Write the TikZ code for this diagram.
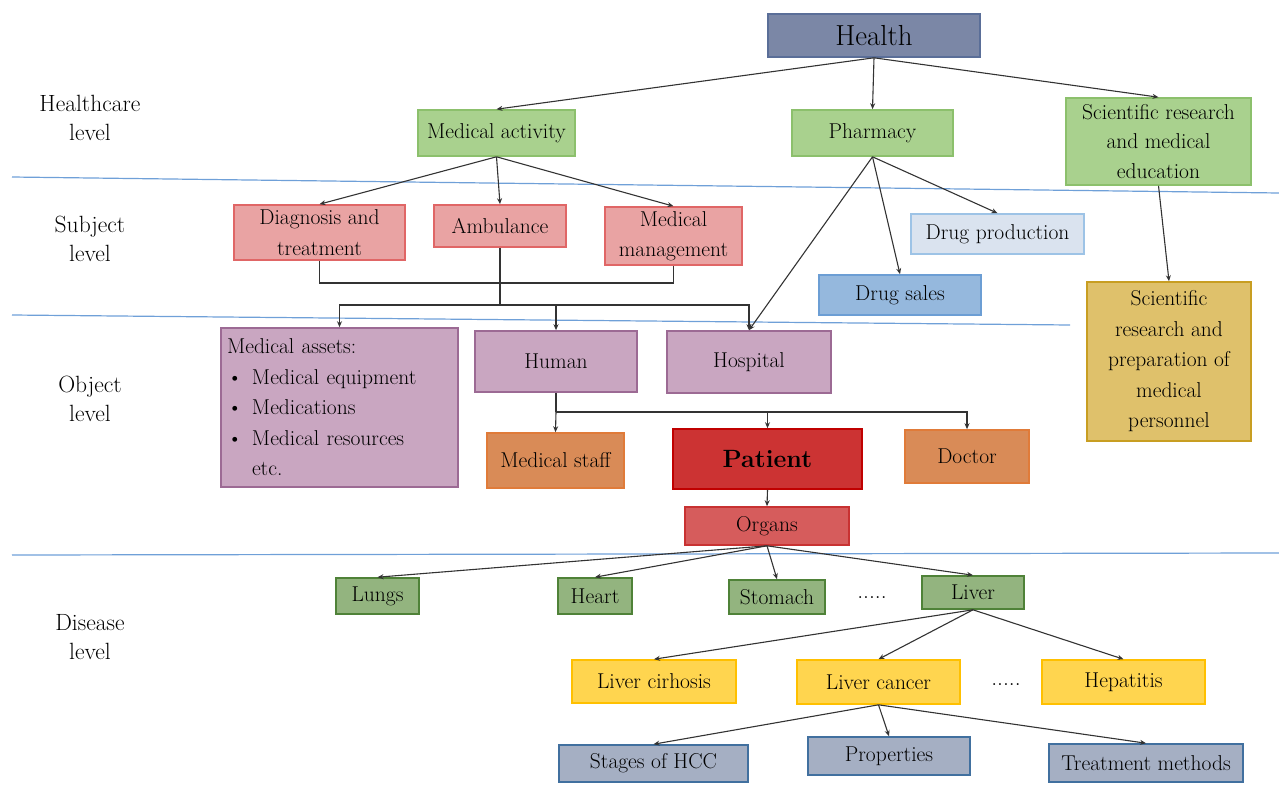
\documentclass[tikz,border=0pt]{standalone}
\usepackage{xcolor}
\usepackage{tikz}
\usetikzlibrary{arrows.meta}

\definecolor{healthfill}{HTML}{7B87A6}
\definecolor{healthline}{HTML}{5A6E98}
\definecolor{greenfill}{HTML}{A9D18E}
\definecolor{greenline}{HTML}{8CC06C}
\definecolor{pinkfill}{HTML}{E9A3A3}
\definecolor{pinkline}{HTML}{E06666}
\definecolor{paleblue}{HTML}{DAE3EF}
\definecolor{palebline}{HTML}{9DC3E6}
\definecolor{salesfill}{HTML}{95B8DD}
\definecolor{salesline}{HTML}{6C9ED4}
\definecolor{goldfill}{HTML}{DFC16B}
\definecolor{goldline}{HTML}{C89E22}
\definecolor{purplefill}{HTML}{C9A6C1}
\definecolor{purpleline}{HTML}{9C6A94}
\definecolor{orangefill}{HTML}{D98B57}
\definecolor{orangeline}{HTML}{E07B39}
\definecolor{patientfill}{HTML}{CC3333}
\definecolor{patientline}{HTML}{C00000}
\definecolor{organfill}{HTML}{D65C5C}
\definecolor{organline}{HTML}{C83232}
\definecolor{olivefill}{HTML}{93B47F}
\definecolor{oliveline}{HTML}{4F8238}
\definecolor{yellowfill}{HTML}{FFD54F}
\definecolor{yellowline}{HTML}{FFC000}
\definecolor{slatefill}{HTML}{A5AFC3}
\definecolor{slateline}{HTML}{41709F}
\definecolor{levelline}{HTML}{6FA0D8}

\tikzset{
  box/.style={draw, line width=1.6pt, inner sep=0pt, align=center,
    font=\fontsize{21.5}{30.5}\selectfont},
  lvl/.style={align=center, font=\fontsize{23.5}{29}\selectfont},
  link/.style={line width=1.1pt, draw=black!80, -{Stealth[length=6pt,width=5pt]}},
  bus/.style={line width=1.1pt, draw=black!80},
  sep/.style={line width=1.2pt, draw=levelline}
}

\begin{document}
\begin{tikzpicture}[x=1pt, y=-1pt]
            \useasboundingbox (0,0) rectangle (1279,787);

            % level separators
            \draw[sep] (12,177) -- (1279,193);
            \draw[sep] (12,315) -- (1070,325);
            \draw[sep] (12,555) -- (1279,553);

            % level labels
            \node[lvl] (lvlcare) at (90,118) {Healthcare\\level};
            \node[lvl] (lvlsubj) at (90,239) {Subject\\level};
            \node[lvl] (lvlobj) at (90,399) {Object\\level};
            \node[lvl] (lvldis) at (90,637) {Disease\\level};

            % healthcare level
            \node[box, fill=healthfill, draw=healthline, minimum width=212, minimum height=43,
              font=\fontsize{29}{32}\selectfont] (health) at (874,35.5) {Health};
            \node[box, fill=greenfill, draw=greenline, minimum width=157, minimum height=46] (medact) at (496.5,133) {Medical activity};
            \node[box, fill=greenfill, draw=greenline, minimum width=161, minimum height=46] (pharmacy) at (872.5,133) {Pharmacy};
            \node[box, fill=greenfill, draw=greenline, minimum width=185, minimum height=87,
              font=\fontsize{21.5}{29.5}\selectfont] (sciedu) at (1158.5,141.5) {Scientific research\\and medical\\education};

            % subject level
            \node[box, fill=pinkfill, draw=pinkline, minimum width=171, minimum height=55] (diag) at (319.5,232.5) {Diagnosis and\\treatment};
            \node[box, fill=pinkfill, draw=pinkline, minimum width=132, minimum height=42] (amb) at (500,226) {Ambulance};
            \node[box, fill=pinkfill, draw=pinkline, minimum width=137, minimum height=58] (mgmt) at (673.5,236) {Medical\\management};
            \node[box, fill=paleblue, draw=palebline, minimum width=173, minimum height=40] (drugprod) at (997.5,234) {Drug production};
            \node[box, fill=salesfill, draw=salesline, minimum width=162, minimum height=40] (drugsales) at (900,295) {Drug sales};
            \node[box, fill=goldfill, draw=goldline, minimum width=164, minimum height=159] (sciprep) at (1169,361.5) {Scientific\\research and\\preparation of\\medical\\personnel};

            % object level
            \node[box, fill=purplefill, draw=purpleline, minimum width=237, minimum height=159,
              text width=225pt, align=left] (assets) at (339.5,407.5)
              {Medical assets:\\
               \makebox[25pt][l]{\textbullet}Medical equipment\\
               \makebox[25pt][l]{\textbullet}Medications\\
               \makebox[25pt][l]{\textbullet}Medical resources\\
               \hspace*{25pt}etc.};
            \node[box, fill=purplefill, draw=purpleline, minimum width=162, minimum height=61] (human) at (556,361.5) {Human};
            \node[box, fill=purplefill, draw=purpleline, minimum width=164, minimum height=62] (hospital) at (749,362) {Hospital};
            \node[box, fill=orangefill, draw=orangeline, minimum width=137, minimum height=55] (staff) at (555.5,460.5) {Medical staff};
            \node[box, fill=patientfill, draw=patientline, minimum width=189, minimum height=60,
              font=\fontsize{25}{28}\selectfont\bfseries] (patient) at (767.5,459) {Patient};
            \node[box, fill=orangefill, draw=orangeline, minimum width=124, minimum height=53] (doctor) at (967,456.5) {Doctor};
            \node[box, fill=organfill, draw=organline, minimum width=164, minimum height=38] (organs) at (767,526) {Organs};

            % disease level
            \node[box, fill=olivefill, draw=oliveline, minimum width=83, minimum height=36] (lungs) at (377.5,596) {Lungs};
            \node[box, fill=olivefill, draw=oliveline, minimum width=74, minimum height=36] (heart) at (595,596) {Heart};
            \node[box, fill=olivefill, draw=oliveline, minimum width=96, minimum height=34] (stomach) at (777,597) {Stomach};
            \node[lvl] (dotsorg) at (872,598) {.....};
            \node[box, fill=olivefill, draw=oliveline, minimum width=102, minimum height=33] (liver) at (973,592.5) {Liver};
            \node[box, fill=yellowfill, draw=yellowline, minimum width=164, minimum height=43] (cirr) at (654,681.5) {Liver cirhosis};
            \node[box, fill=yellowfill, draw=yellowline, minimum width=163, minimum height=44] (cancer) at (878.5,682) {Liver cancer};
            \node[lvl] (dotsdis) at (1006,685) {.....};
            \node[box, fill=yellowfill, draw=yellowline, minimum width=163, minimum height=44] (hepat) at (1123.5,682) {Hepatitis};
            \node[box, fill=slatefill, draw=slateline, minimum width=189, minimum height=37] (stages) at (653.5,763.5) {Stages of HCC};
            \node[box, fill=slatefill, draw=slateline, minimum width=162, minimum height=38] (props) at (889,756) {Properties};
            \node[box, fill=slatefill, draw=slateline, minimum width=194, minimum height=38] (treat) at (1146,763) {Treatment methods};

            % bus heights
            \coordinate (busA) at (0,283);
            \coordinate (busB) at (0,305);
            \coordinate (busC) at (0,412);

            \draw[link] (health.south) -- (medact.north); % health-activity
            \draw[link] (health.south) -- (pharmacy.north); % health-pharmacy
            \draw[link] (health.south) -- (sciedu.north); % health-science
            \draw[link] (medact.south) -- (diag.north);
            \draw[link] (medact.south) -- (amb.north);
            \draw[link] (medact.south) -- (mgmt.north);
            \draw[link] (pharmacy.south) -- (drugprod.north);
            \draw[link] (pharmacy.south) -- (drugsales.north);
            \draw[link] (pharmacy.south) -- (hospital.north);
            \draw[link] (sciedu.south) -- (sciprep.north);

            \draw[bus] (diag.south) -- (diag.south |- busA) -- (mgmt.south |- busA) -- (mgmt.south); % diag-mgmt
            \draw[bus] (amb.south) -- (amb.south |- busB); % ambulance down
            \draw[link] (amb.south |- busB) -| (assets.north);
            \draw[link] (amb.south |- busB) -| (hospital.north);
            \draw[link] (human.north |- busB) -- (human.north);

            \draw[bus] (human.south) -- (human.south |- busC); % human down
            \draw[link] (human.south |- busC) -- (staff.north);
            \draw[link] (human.south |- busC) -| (doctor.north);
            \draw[link] (patient.north |- busC) -- (patient.north);
            \draw[link] (patient.south) -- (organs.north);

            \draw[link] (organs.south) -- (lungs.north);
            \draw[link] (organs.south) -- (heart.north);
            \draw[link] (organs.south) -- (stomach.north);
            \draw[link] (organs.south) -- (liver.north);
            \draw[link] (liver.south) -- (cirr.north);
            \draw[link] (liver.south) -- (cancer.north);
            \draw[link] (liver.south) -- (hepat.north);
            \draw[link] (cancer.south) -- (stages.north);
            \draw[link] (cancer.south) -- (props.north);
            \draw[link] (cancer.south) -- (treat.north);
        \end{tikzpicture}
\end{document}
